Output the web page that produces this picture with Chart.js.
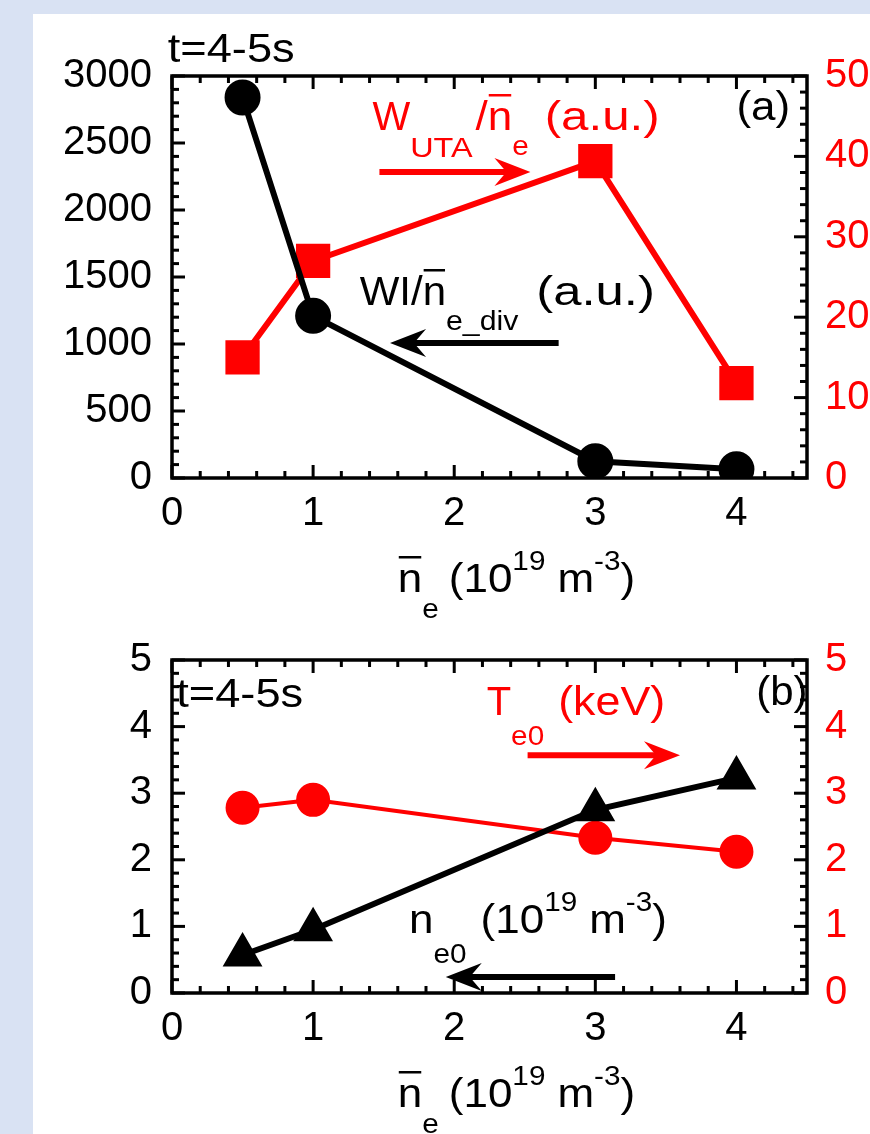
<!DOCTYPE html>
<html>
<head>
<meta charset="utf-8">
<script src="https://cdn.jsdelivr.net/npm/chart.js@4.4.1/dist/chart.umd.min.js"></script>
<style>
html, body { margin: 0; padding: 0; background: #d9e2f3; }
body { width: 870px; height: 1134px; overflow: hidden; position: relative; }
#panel { position: absolute; left: 33px; top: 14px; width: 837px; height: 1120px; background: #fff; }
canvas { position: absolute; left: 0; }
#chartA { top: 0; }
#chartB { top: 600px; }
</style>
</head>
<body>
<div id="panel">
  <canvas id="chartA" width="837" height="640"></canvas>
  <canvas id="chartB" width="837" height="520"></canvas>
</div>
<script>
// data
const neBar = [0.5, 1, 3, 4];
const wlDiv = [2840, 1210, 125, 65];     // WI / ne_div (a.u.), left axis (a)
const wUta = [15, 27, 39.4, 11.8];       // W_UTA / ne (a.u.), right axis (a)
const ne0 = [0.57, 0.95, 2.75, 3.23];    // ne0, left axis (b)
const te0 = [2.78, 2.9, 2.33, 2.12];     // Te0 (keV), right axis (b)

const xTicks = [0, 1, 2, 3, 4];
const yTicksA = [0, 500, 1000, 1500, 2000, 2500, 3000];
const y1TicksA = [0, 10, 20, 30, 40, 50];
const yTicksB = [0, 1, 2, 3, 4, 5];

const RED = "#ff0000";
const FONT = '"Liberation Sans", Arial, Helvetica, sans-serif';

function pts(xs, ys) {
    return xs.map((x, i) => ({ x: x, y: ys[i] }));
}

// frame + inward ticks (major/minor) on all four sides
const framePlugin = {
    id: "frame",
    afterDatasetsDraw(chart, args, opts) {
        const ctx = chart.ctx;
        const a = chart.chartArea;
        ctx.save();
        ctx.strokeStyle = "#000";
        ctx.lineWidth = 3;
        const tick = function(scale, step, major, side) {
            const n = Math.floor((scale.max - scale.min) / step + 1e-6);
            for (let i = 0; i <= n; i++) {
                const v = scale.min + i * step;
                const r = v / major;
                const isMajor = Math.abs(r - Math.round(r)) < 1e-6;
                const len = isMajor ? 13 : 7;
                const p = scale.getPixelForValue(v);
                ctx.beginPath();
                if (side === "bottom") { ctx.moveTo(p, a.bottom); ctx.lineTo(p, a.bottom - len); }
                if (side === "top") { ctx.moveTo(p, a.top); ctx.lineTo(p, a.top + len); }
                if (side === "left") { ctx.moveTo(a.left, p); ctx.lineTo(a.left + len, p); }
                if (side === "right") { ctx.moveTo(a.right, p); ctx.lineTo(a.right - len, p); }
                ctx.stroke();
            }
        };
        tick(chart.scales.x, opts.xMinor, 1, "bottom");
        tick(chart.scales.x, opts.xMinor, 1, "top");
        tick(chart.scales.y, opts.yMinor, opts.yMajor, "left");
        tick(chart.scales.y1, opts.y1Minor, opts.y1Major, "right");
        ctx.lineWidth = 3.5;
        ctx.strokeRect(a.left, a.top, a.right - a.left, a.bottom - a.top);
        ctx.restore();
    }
};

// text made of pieces: normal, sub, sup, overbar; sx stretches a piece sideways
function drawRich(ctx, x, y, parts, color) {
    ctx.fillStyle = color;
    ctx.textAlign = "left";
    ctx.textBaseline = "alphabetic";
    let cx = x;
    parts.forEach(p => {
        const small = p.sub || p.sup;
        const sx = p.sx || 1.1;
        ctx.font = (small ? 27 : 40) + "px " + FONT;
        let dy = 0;
        if (p.sub) dy = p.dy || 26;
        if (p.sup) dy = p.dy || -22;
        ctx.save();
        ctx.translate(cx, y + dy);
        ctx.scale(sx, 1);
        ctx.fillText(p.t, 0, 0);
        ctx.restore();
        const w = ctx.measureText(p.t).width * sx;
        if (p.bar) ctx.fillRect(cx + 1, y - 36, w - 2, 2.5);
        cx += w + (p.gap || 0);
    });
}

function drawArrow(ctx, x0, x1, y, color, lw) {
    const dir = x1 > x0 ? 1 : -1;
    const head = 36;
    ctx.save();
    ctx.strokeStyle = color;
    ctx.fillStyle = color;
    ctx.lineWidth = lw;
    ctx.beginPath();
    ctx.moveTo(x0, y);
    ctx.lineTo(x1 - dir * 12, y);
    ctx.stroke();
    ctx.beginPath();
    ctx.moveTo(x1, y);
    ctx.lineTo(x1 - dir * head, y - 14);
    ctx.lineTo(x1 - dir * (head - 12), y);
    ctx.lineTo(x1 - dir * head, y + 14);
    ctx.closePath();
    ctx.fill();
    ctx.restore();
}

// texts and arrows placed in data coordinates of x / y (left axis)
const notesPlugin = {
    id: "notes",
    afterDraw(chart, args, opts) {
        const ctx = chart.ctx;
        const sx = chart.scales.x, sy = chart.scales.y;
        ctx.save();
        opts.texts.forEach(t => {
            drawRich(ctx, sx.getPixelForValue(t.x), sy.getPixelForValue(t.y), t.parts, t.color);
        });
        opts.arrows.forEach(a => {
            drawArrow(ctx, sx.getPixelForValue(a.from), sx.getPixelForValue(a.to), sy.getPixelForValue(a.y), a.color, a.width);
        });
        // x-axis title under the chart
        drawRich(ctx, sx.getPixelForValue(1.6), chart.chartArea.bottom + 114, [
            { t: "n", bar: true },
            { t: "e", sub: true, dy: 26, gap: 10 },
            { t: "(10" },
            { t: "19", sup: true, gap: 12 },
            { t: "m" },
            { t: "-3", sup: true },
            { t: ")" }
        ], "#000");
        ctx.restore();
    }
};

function scaleOpts(ticksList, color, padding, width) {
    return {
        type: "linear",
        min: ticksList[0],
        max: ticksList[ticksList.length - 1],
        afterBuildTicks: s => { s.ticks = ticksList.map(v => ({ value: v })); },
        afterFit: s => { s.width = width; },
        grid: { display: false, drawTicks: false },
        border: { display: false },
        ticks: { color: color, padding: padding, font: { size: 40, family: FONT }, callback: v => String(v) }
    };
}

function makeChart(id, datasets, yTicks, y1Ticks, topPad, xHeight, frame, notes) {
    return new Chart(document.getElementById(id), {
        type: "line",
        data: { datasets: datasets },
        options: {
            responsive: false,
            animation: false,
            layout: { padding: { top: topPad, left: 0, right: 0, bottom: 0 } },
            plugins: {
                legend: { display: false },
                tooltip: { enabled: false },
                frame: frame,
                notes: notes
            },
            scales: {
                x: {
                    type: "linear",
                    min: 0,
                    max: 4.5,
                    afterBuildTicks: s => { s.ticks = xTicks.map(v => ({ value: v })); },
                    afterFit: s => { s.height = xHeight; },
                    grid: { display: false, drawTicks: false },
                    border: { display: false },
                    ticks: { color: "#000", padding: 12, font: { size: 40, family: FONT }, callback: v => String(v) }
                },
                y: Object.assign(scaleOpts(yTicks, "#000", 20, 139), { position: "left" }),
                y1: Object.assign(scaleOpts(y1Ticks, RED, 18, 63), { position: "right" })
            }
        },
        plugins: [framePlugin, notesPlugin]
    });
}

// (a)
makeChart("chartA", [
    {
        data: pts(neBar, wlDiv), yAxisID: "y",
        borderColor: "#000", backgroundColor: "#000", borderWidth: 6,
        pointStyle: "circle", pointRadius: 15, pointBackgroundColor: "#000", pointBorderColor: "#000"
    },
    {
        data: pts(neBar, wUta), yAxisID: "y1",
        borderColor: RED, backgroundColor: RED, borderWidth: 6,
        pointStyle: "rect", pointRadius: 20, pointBackgroundColor: RED, pointBorderColor: RED
    }
], yTicksA, y1TicksA, 62, 176,
{ xMinor: 0.2, yMinor: 100, yMajor: 500, y1Minor: 2, y1Major: 10 },
{
    texts: [
        { x: -0.03, y: 3104, color: "#000", parts: [{ t: "t=4-5s", sx: 1.13 }] },
        { x: 4.0, y: 2672, color: "#000", parts: [{ t: "(a)", sx: 1.1 }] },
        { x: 1.42, y: 2597, color: RED, parts: [
            { t: "W", sx: 1.0 }, { t: "UTA", sub: true, dy: 27, sx: 1.2, gap: 3 }, { t: "/" }, { t: "n", bar: true },
            { t: "e", sub: true, dy: 25, gap: 16 }, { t: "(a.u.)", sx: 1.23 }
        ] },
        { x: 1.33, y: 1291, color: "#000", parts: [
            { t: "WI/", sx: 1.05 }, { t: "n", bar: true, sx: 1.05 }, { t: "e_div", sub: true, dy: 25, sx: 1.12, gap: 18 },
            { t: "(a.u.)", sx: 1.27 }
        ] }
    ],
    arrows: [
        { from: 1.47, to: 2.54, y: 2284, color: RED, width: 6 },
        { from: 2.74, to: 1.545, y: 1007, color: "#000", width: 6 }
    ]
});

// (b)
makeChart("chartB", [
    {
        data: pts(neBar, ne0), yAxisID: "y",
        borderColor: "#000", backgroundColor: "#000", borderWidth: 6,
        pointStyle: "triangle", pointRadius: 17, pointBackgroundColor: "#000", pointBorderColor: "#000"
    },
    {
        data: pts(neBar, te0), yAxisID: "y1",
        borderColor: RED, backgroundColor: RED, borderWidth: 4,
        pointStyle: "circle", pointRadius: 15, pointBackgroundColor: RED, pointBorderColor: RED
    }
], yTicksB, yTicksB, 46, 141,
{ xMinor: 0.2, yMinor: 0.2, yMajor: 1, y1Minor: 0.2, y1Major: 1 },
{
    texts: [
        { x: 0.03, y: 4.29, color: "#000", parts: [{ t: "t=4-5s", sx: 1.13 }] },
        { x: 4.14, y: 4.32, color: "#000", parts: [{ t: "(b)", sx: 1.05 }] },
        { x: 2.23, y: 4.17, color: RED, parts: [
            { t: "T", sx: 1.0 }, { t: "e0", sub: true, dy: 30, gap: 14 }, { t: "(keV)", sx: 1.12 }
        ] },
        { x: 1.68, y: 0.9, color: "#000", parts: [
            { t: "n" }, { t: "e0", sub: true, dy: 30, gap: 14 }, { t: "(10" },
            { t: "19", sup: true, gap: 12 }, { t: "m" }, { t: "-3", sup: true }, { t: ")" }
        ] }
    ],
    arrows: [
        { from: 2.52, to: 3.6, y: 3.57, color: RED, width: 6 },
        { from: 3.14, to: 1.94, y: 0.24, color: "#000", width: 6 }
    ]
});
</script>
</body>
</html>
